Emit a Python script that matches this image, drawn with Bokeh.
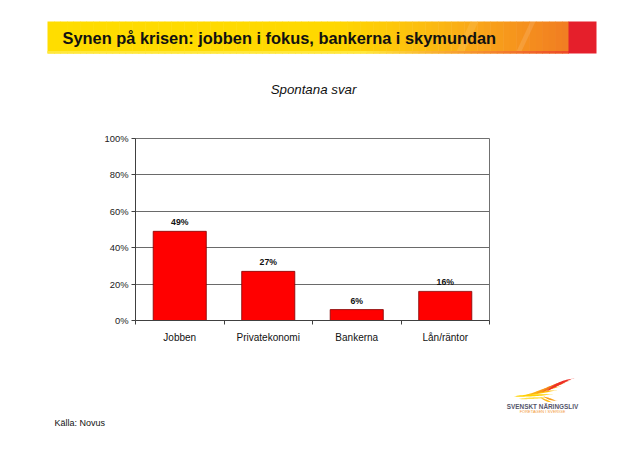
import numpy as np
from bokeh.plotting import figure
from bokeh.layouts import column
from bokeh.models import (ColumnDataSource, Range1d, LinearAxis, FixedTicker,
                          NumeralTickFormatter, Label)
from bokeh.core.properties import value
from bokeh.embed import file_html
from bokeh.resources import INLINE

# ---------------- data ----------------
categories = ["Jobben", "Privatekonomi", "Bankerna", "Lån/räntor"]
shares = [0.49, 0.27, 0.06, 0.16]
share_labels = ["49%", "27%", "6%", "16%"]
y_ticks = [0, 0.2, 0.4, 0.6, 0.8, 1.0]

title_text = "Synen på krisen: jobben i fokus, bankerna i skymundan"
subtitle_text = "Spontana svar"
source_text = "Källa: Novus"
logo_text = "SVENSKT NÄRINGSLIV"
logo_tagline = "FÖRETAGEN I SVERIGE"

FONT = "Liberation Sans"
W = 624


def deco_fig(h, y_top):
    f = figure(width=W, height=h, output_backend="svg", toolbar_location=None,
               x_range=Range1d(0, W), y_range=Range1d(y_top + h, y_top),
               min_border=0, x_axis_location=None, y_axis_location=None,
               frame_align=False)
    f.grid.visible = False
    f.outline_line_color = None
    f.background_fill_color = "white"
    f.border_fill_color = "white"
    return f


def mix(c1, c2, t):
    c = [int(round(a + (b - a) * t)) for a, b in zip(c1, c2)]
    return "#%02x%02x%02x" % tuple(c)


# ---------------- header ----------------
head = deco_fig(100, 0)
x0, x1, xr = 47, 568, 596
yt, yb = 21, 53
stops = [(0.0, (255, 221, 0)), (0.55, (255, 216, 0)), (0.72, (252, 190, 16)),
         (0.85, (248, 160, 26)), (1.0, (241, 124, 34))]
n = 80
edges = np.linspace(x0, x1, n + 1)
cols = []
for i in range(n):
    t = (i + 0.5) / n
    for (ta, ca), (tb, cb) in zip(stops[:-1], stops[1:]):
        if ta <= t <= tb:
            cols.append(mix(ca, cb, (t - ta) / (tb - ta)))
            break
head.quad(left=edges[:-1], right=edges[1:] + 0.5, top=yt, bottom=yb,
          fill_color=cols, line_color=None)
# faint diagonal sheen
head.patch([455, 470, 478, 463], [yb, yt, yt, yb], fill_color="white", fill_alpha=0.10, line_color=None)
head.patch([515, 530, 535, 520], [yb, yt, yt, yb], fill_color="white", fill_alpha=0.12, line_color=None)
# bottom edge band
bcols = [mix((255, 232, 60), (236, 70, 40), min(1.0, max(0.0, ((e - x0) / (x1 - x0) - 0.6) / 0.4)))
         for e in edges[:-1]]
head.quad(left=edges[:-1], right=edges[1:] + 0.5, top=yb - 2.5, bottom=yb,
          fill_color=bcols, line_color=None)
head.quad(left=x1, right=xr, top=yt, bottom=yb, fill_color="#e51f2b", line_color=None)

head.add_layout(Label(x=62, y=37.5, text=title_text, text_font=FONT, text_font_style="bold",
                      text_font_size="16.4px", text_baseline="middle", text_color="#111111"))
head.add_layout(Label(x=313, y=89, text=subtitle_text, text_font=FONT, text_font_style="italic",
                      text_font_size="13.3px", text_align="center", text_baseline="middle",
                      text_color="#111111"))

# ---------------- chart ----------------
slot_centers = [i + 0.5 for i in range(len(categories))]
boundaries = list(range(len(categories) + 1))
src = ColumnDataSource(dict(x=slot_centers, val=shares, lab=share_labels))

p = figure(width=W, height=260, output_backend="svg", toolbar_location=None,
           x_range=Range1d(0, len(categories)), y_range=Range1d(0, 1),
           min_border_left=135, min_border_right=W - 489, min_border_top=38, min_border_bottom=40,
           x_axis_location=None, y_axis_location=None, frame_align=False)
p.outline_line_color = "#707070"
p.background_fill_color = "white"
p.border_fill_color = "white"

yax = LinearAxis(ticker=FixedTicker(ticks=y_ticks), formatter=NumeralTickFormatter(format="0%"))
yax.major_label_text_font = FONT
yax.major_label_text_font_size = "9.4px"
yax.major_label_text_color = "#222222"
yax.axis_line_color = "#404040"
yax.major_tick_line_color = "#404040"
yax.major_tick_out = 4
yax.major_tick_in = 0
yax.minor_tick_line_color = None
yax.major_label_standoff = 3
p.add_layout(yax, "left")

xax = LinearAxis(ticker=FixedTicker(ticks=slot_centers, minor_ticks=boundaries),
                 major_label_overrides={c: t for c, t in zip(slot_centers, categories)})
xax.axis_line_color = "#404040"
xax.major_tick_line_color = None
xax.major_tick_out = 0
xax.major_tick_in = 0
xax.minor_tick_line_color = "#404040"
xax.minor_tick_out = 4
xax.minor_tick_in = 0
xax.major_label_text_font = FONT
xax.major_label_text_font_size = "10px"
xax.major_label_text_color = "#111111"
xax.major_label_standoff = 7
p.add_layout(xax, "below")

p.ygrid.ticker = FixedTicker(ticks=y_ticks)
p.ygrid.grid_line_color = "#6a6a6a"
p.ygrid.grid_line_width = 1
p.xgrid.grid_line_color = None

p.vbar(x="x", top="val", width=0.6, source=src, fill_color="#FF0000",
       line_color="#800000", line_width=0.8)
p.text(x="x", y="val", text="lab", source=src, text_font=value(FONT),
       text_font_size="8.7px", text_font_style="bold", text_align="center",
       text_baseline="bottom", y_offset=-4, text_color="#111111")

# ---------------- footer ----------------
foot = deco_fig(76, 360)
foot.add_layout(Label(x=54, y=422, text=source_text, text_font=FONT, text_font_size="9px",
                      text_baseline="middle", text_color="#111111"))


def feather(s, t, bend, w, npts=24):
    s = np.array(s, float)
    t = np.array(t, float)
    d = t - s
    nrm = np.array([d[1], -d[0]]) / np.hypot(*d)
    c = (s + t) / 2 + nrm * bend
    u = np.linspace(0, 1, npts)
    pts = ((1 - u) ** 2)[:, None] * s + (2 * u * (1 - u))[:, None] * c + (u ** 2)[:, None] * t
    width = w * np.sin(np.pi * np.clip(u * 1.1, 0, 1)) + 0.2
    top = pts + nrm * width[:, None] / 2
    bot = pts - nrm * width[:, None] / 2
    poly = np.vstack([top, bot[::-1]])
    return list(poly[:, 0]), list(poly[:, 1])


feathers = [((513, 396), (553, 394), 0.5, 1.9, "#ffd200"),
            ((518, 398.5), (549, 397), 0.3, 1.4, "#ffe04a"),
            ((524, 395), (557, 390), 1.5, 2.0, "#ffc20e"),
            ((530, 394), (561, 386), 2.0, 2.2, "#fbab18"),
            ((536, 393), (566, 382.5), 2.5, 2.4, "#f7941d"),
            ((541, 392), (570, 380), 2.8, 2.4, "#f36f21"),
            ((546, 391), (574, 377.5), 3.0, 2.4, "#ed2f26"),
            ((540, 397), (552, 402), -1.0, 1.4, "#fdb813"),
            ((543, 396), (557, 400.5), -1.0, 1.4, "#f9a11b")]
xs, ys, fc = [], [], []
for s, t, b, w, c in feathers:
    fx, fy = feather(s, t, b, w)
    xs.append(fx)
    ys.append(fy)
    fc.append(c)
foot.patches(xs, ys, fill_color=fc, line_color=None)
foot.add_layout(Label(x=542, y=405.5, text=logo_text, text_font=FONT, text_font_style="bold",
                      text_font_size="6.4px", text_align="center", text_baseline="middle",
                      text_color="#55556a"))
foot.add_layout(Label(x=542, y=410.5, text=logo_tagline, text_font=FONT,
                      text_font_size="4px", text_align="center", text_baseline="middle",
                      text_color="#f39a3a"))

layout = column(head, p, foot, spacing=0)
open("out.html", "w").write(file_html(layout, INLINE))
